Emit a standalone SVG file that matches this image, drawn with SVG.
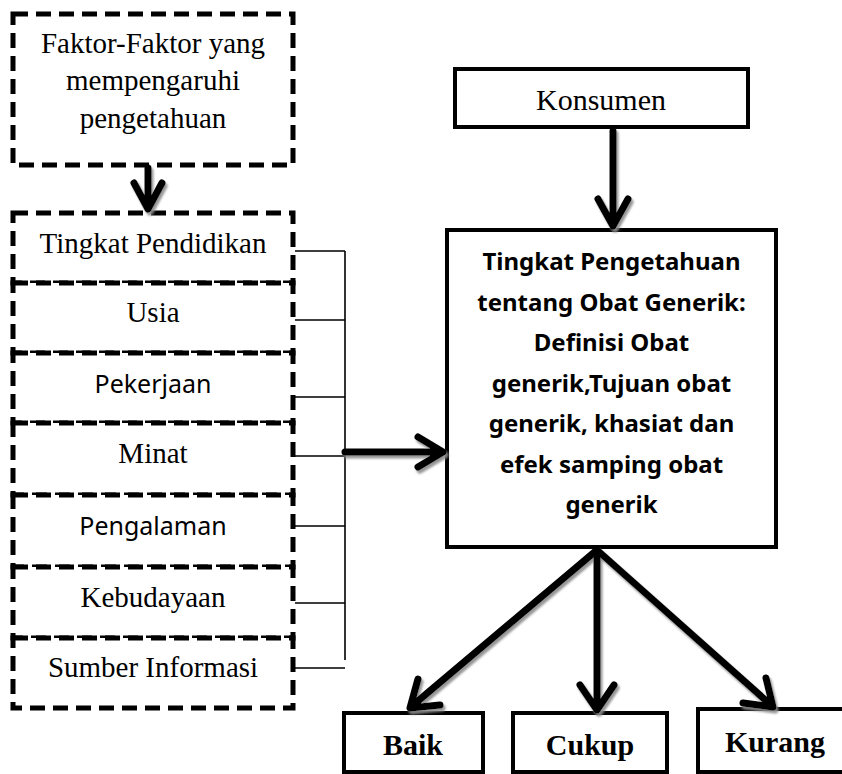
<svg xmlns="http://www.w3.org/2000/svg" width="842" height="774" viewBox="0 0 842 774">
<defs>
<style>
.dash{fill:#fff;stroke:#000;stroke-width:5;stroke-dasharray:15 8}
.solid{fill:#fff;stroke:#000;stroke-width:4}
.serif{font-family:"Liberation Serif","Times New Roman",serif;font-size:29px;fill:#000;text-anchor:middle}
.sans{font-family:"Noto Sans","Open Sans",sans-serif;font-size:25px;fill:#000;text-anchor:middle}
.bsans{font-family:"Noto Sans","Open Sans",sans-serif;font-size:24px;font-weight:bold;fill:#000;text-anchor:middle}
.bserif{font-family:"Liberation Serif","Times New Roman",serif;font-size:30px;font-weight:bold;fill:#000;text-anchor:middle}
.thin{fill:none;stroke:#000;stroke-width:1.6}
.thick{fill:none;stroke:#000;stroke-width:7;stroke-linecap:round;stroke-linejoin:round}
</style>
<filter id="sh" x="-20%" y="-20%" width="140%" height="140%">
<feDropShadow dx="2" dy="3" stdDeviation="1" flood-color="#8a8a8a" flood-opacity="0.9"/>
</filter>
</defs>
<rect width="842" height="774" fill="#fff"/>

<g id="faktor">
<rect class="dash" x="13" y="14" width="280" height="151"/>
<text class="serif" x="153" y="53">Faktor-Faktor yang</text>
<text class="serif" x="153" y="90">mempengaruhi</text>
<text class="serif" x="153" y="128">pengetahuan</text>
</g>

<g id="pendidikan">
<rect class="dash" x="13" y="213" width="280" height="70"/>
<text class="serif" x="153" y="253">Tingkat Pendidikan</text>
</g>
<g id="usia">
<rect class="dash" x="13" y="283" width="280" height="70"/>
<text class="serif" x="153" y="322">Usia</text>
</g>
<g id="pekerjaan">
<rect class="dash" x="13" y="353" width="280" height="70"/>
<text class="sans" x="153" y="393">Pekerjaan</text>
</g>
<g id="minat">
<rect class="dash" x="13" y="423" width="280" height="72"/>
<text class="serif" x="153" y="463">Minat</text>
</g>
<g id="pengalaman">
<rect class="dash" x="13" y="495" width="280" height="72"/>
<text class="sans" x="153" y="535">Pengalaman</text>
</g>
<g id="kebudayaan">
<rect class="dash" x="13" y="567" width="280" height="71"/>
<text class="serif" x="153" y="607">Kebudayaan</text>
</g>
<g id="sumber">
<rect class="dash" x="13" y="638" width="280" height="70"/>
<text class="serif" x="153" y="677">Sumber Informasi</text>
</g>

<g id="konsumen">
<rect class="solid" x="455" y="69" width="293" height="58"/>
<text class="serif" x="601" y="110" style="font-size:30px">Konsumen</text>
</g>

<g id="pengetahuan">
<rect class="solid" x="447" y="230" width="329" height="317"/>
<text class="bsans" x="611.5" y="270">Tingkat Pengetahuan</text>
<text class="bsans" x="611.5" y="310.5">tentang Obat Generik:</text>
<text class="bsans" x="611.5" y="351">Definisi Obat</text>
<text class="bsans" x="611.5" y="391.5">generik,Tujuan obat</text>
<text class="bsans" x="611.5" y="432">generik, khasiat dan</text>
<text class="bsans" x="611.5" y="472.5">efek samping obat</text>
<text class="bsans" x="611.5" y="513">generik</text>
</g>

<g id="baik">
<rect class="solid" x="344" y="713" width="139" height="59"/>
<text class="bserif" x="413" y="755">Baik</text>
</g>
<g id="cukup">
<rect class="solid" x="513" y="713" width="154" height="59"/>
<text class="bserif" x="590" y="755">Cukup</text>
</g>
<g id="kurang">
<rect class="solid" x="698" y="709" width="154" height="63"/>
<text class="bserif" x="775" y="752">Kurang</text>
</g>

<g id="connectors">
<path class="thin" d="M295 251H345M295 320H345M295 397H345M295 456H345M295 526H345M295 603H345M295 668H345M345 251V660"/>
<g filter="url(#sh)">
<path class="thick" d="M148 168V208M134 183L148 209L162 183"/>
<path class="thick" d="M345 452H440M418 437L443 452L418 467"/>
<path class="thick" d="M613 131V224M598 199L613 226L628 199"/>
<path class="thick" d="M597 550L412 706M418 679L410 708L440 705"/>
<path class="thick" d="M597 550V707M580 685L597 710L614 685"/>
<path class="thick" d="M597 550L771 705M766 678L773 707L743 703"/>
</g>
</g>
</svg>
